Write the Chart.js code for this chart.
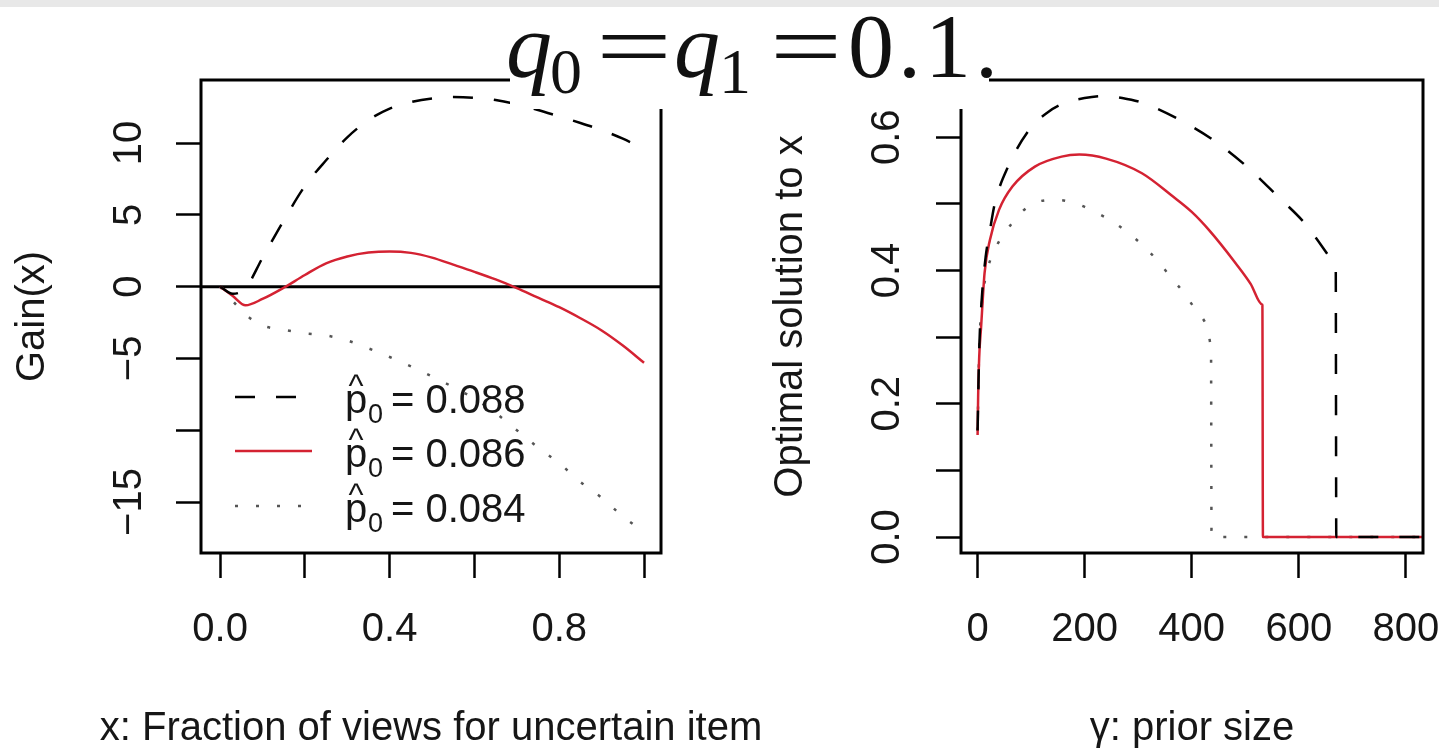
<!DOCTYPE html>
<html>
<head>
<meta charset="utf-8">
<script src="https://cdn.jsdelivr.net/npm/chart.js@4.4.1/dist/chart.umd.min.js"></script>
<style>
  body { margin: 0; width: 1439px; height: 749px; background: #fff; position: relative; overflow: hidden; }
  canvas { position: absolute; top: 0; }
  #gain { left: 0; }
  #solution { left: 720px; }
  #overlay { position: absolute; left: 0; top: 0; pointer-events: none; }
</style>
</head>
<body>
<canvas id="gain" width="780" height="749"></canvas>
<canvas id="solution" width="719" height="749"></canvas>
<svg id="overlay" width="1439" height="115">
  <rect x="0" y="0" width="1439" height="7" fill="#e8e8e8"/>
  <rect x="510" y="7" width="479" height="102" fill="#fff"/>
  <g font-family="'Liberation Serif', 'DejaVu Serif', serif" fill="#111">
    <text x="529" y="77" font-size="92" font-style="italic" text-anchor="middle">q</text>
    <text x="566" y="93" font-size="64" text-anchor="middle">0</text>
    <text x="596" y="77" font-size="92" textLength="76" lengthAdjust="spacingAndGlyphs">=</text>
    <text x="697" y="77" font-size="92" font-style="italic" text-anchor="middle">q</text>
    <text x="735" y="93" font-size="64" text-anchor="middle">1</text>
    <text x="770" y="77" font-size="92" textLength="72" lengthAdjust="spacingAndGlyphs">=</text>
    <text x="848" y="77" font-size="92" textLength="150" lengthAdjust="spacing">0.1.</text>
  </g>
</svg>
<script>
// ---- left panel: Gain(x) against fraction x ----
const fracX = [0, 0.03, 0.06, 0.1, 0.15, 0.2, 0.25, 0.3, 0.35, 0.4, 0.45, 0.5, 0.55, 0.6, 0.65, 0.7, 0.75, 0.8, 0.85, 0.9, 0.95, 1.0];
const gain088 = [0, -0.5, -0.1, 2.0, 4.6, 7.0, 8.8, 10.4, 11.6, 12.4, 12.85, 13.1, 13.2, 13.15, 13.0, 12.7, 12.3, 11.85, 11.4, 10.9, 10.3, 9.6];
const gain086 = [0, -0.65, -1.3, -0.86, -0.08, 0.81, 1.62, 2.1, 2.37, 2.45, 2.35, 2.02, 1.53, 1.03, 0.5, -0.1, -0.77, -1.43, -2.2, -3.05, -4.1, -5.3];
const gain084 = [0, -1.0, -1.95, -2.7, -3.0, -3.25, -3.4, -3.75, -4.3, -4.9, -5.55, -6.25, -7.0, -7.8, -8.8, -10.0, -11.2, -12.3, -13.6, -14.7, -16.0, -17.1];

const fracTicks = [0, 0.2, 0.4, 0.6, 0.8, 1.0];
const fracTickLabels = ['0.0', '', '0.4', '', '0.8', ''];
const gainTicks = [-15, -10, -5, 0, 5, 10];
const gainTickLabels = ['\u221215', '', '\u22125', '0', '5', '10'];

// ---- right panel: optimal x against prior size ----
const prior088 = [0, 3, 8, 15, 23, 32, 57, 98, 130, 161, 200, 236, 270, 311, 378, 440, 503, 561, 611, 661, 668.5, 669, 670, 850];
const sol088 = [0.16, 0.28, 0.36, 0.42, 0.46, 0.5, 0.556, 0.613, 0.637, 0.651, 0.659, 0.662, 0.659, 0.651, 0.626, 0.596, 0.556, 0.511, 0.471, 0.416, 0.407, 0.406, 0, 0];
const prior086 = [0, 1, 3, 6.6, 13, 23, 40, 65, 107, 157, 190, 240, 307, 365, 400, 432, 482, 510, 531.5, 532, 533, 850];
const sol086 = [0.153, 0.21, 0.27, 0.316, 0.396, 0.446, 0.491, 0.526, 0.556, 0.571, 0.574, 0.568, 0.546, 0.511, 0.488, 0.461, 0.411, 0.38, 0.349, 0.348, 0, 0];
const prior084 = [0, 3, 8, 15, 32, 55, 80, 111, 148, 182, 219, 253, 282, 311, 338, 363, 386, 407, 428, 432, 435.5, 436, 437, 850];
const sol084 = [0.16, 0.28, 0.35, 0.39, 0.431, 0.461, 0.486, 0.503, 0.506, 0.501, 0.488, 0.473, 0.456, 0.436, 0.413, 0.388, 0.366, 0.341, 0.316, 0.303, 0.289, 0.287, 0, 0];

const priorTicks = [0, 200, 400, 600, 800];
const priorTickLabels = ['0', '200', '400', '600', '800'];
const solTicks = [0, 0.1, 0.2, 0.3, 0.4, 0.5, 0.6];
const solTickLabels = ['0.0', '', '0.2', '', '0.4', '', '0.6'];

const p0Labels = ['0.088', '0.086', '0.084'];

const ink = '#161616';
const red = '#d42232';
const dotGrey = '#555';
const font40 = { family: "'Liberation Sans', Arial, sans-serif", size: 40 };

const pts = (xs, ys) => xs.map((x, i) => ({ x, y: ys[i] }));

function series(label, data, style) {
  return Object.assign({
    label, data, borderWidth: 2.5, pointRadius: 0, fill: false,
    cubicInterpolationMode: 'monotone'
  }, style);
}
const dashed = { borderColor: '#000', borderDash: [20, 21] };
const solid = { borderColor: red };
const dotted = { borderColor: dotGrey, borderDash: [3, 18] };

function axis(o) {
  return {
    type: 'linear', position: o.position, min: o.min, max: o.max,
    afterBuildTicks: s => { s.ticks = o.ticks.map(v => ({ value: v })); },
    afterFit: s => {
      if (s.isHorizontal()) s.height = o.size; else s.width = o.size;
      s.paddingLeft = s.paddingRight = s.paddingTop = s.paddingBottom = 0;
    },
    grid: { display: true, drawOnChartArea: false, drawTicks: true, tickLength: 25, tickWidth: 2.5, tickColor: '#000' },
    border: { display: false },
    ticks: {
      autoSkip: false, padding: o.tickPad, color: ink, font: font40,
      minRotation: o.rot, maxRotation: o.rot, crossAlign: o.rot ? 'center' : 'near',
      callback: (v, i) => o.labels[i]
    },
    title: { display: !!o.title, text: o.title || '', color: ink, font: font40, padding: o.titlePad }
  };
}

const frame = {
  id: 'frame',
  afterDatasetsDraw(chart) {
    const { ctx, chartArea: a } = chart;
    ctx.save();
    ctx.strokeStyle = '#000';
    ctx.lineWidth = 3;
    ctx.strokeRect(a.left, a.top, a.right - a.left, a.bottom - a.top);
    ctx.restore();
  }
};

// x axis caption, centred under the plot and free to run wider than it (as in R)
const xCaption = {
  id: 'xCaption',
  afterDraw(chart, args, opts) {
    const { ctx, chartArea: a } = chart;
    ctx.save();
    ctx.font = "40px 'Liberation Sans', Arial, sans-serif";
    ctx.fillStyle = ink;
    ctx.textAlign = 'center';
    ctx.textBaseline = 'alphabetic';
    ctx.fillText(opts.text, (a.left + a.right) / 2, chart.scales.x.bottom - 9);
    ctx.restore();
  }
};

// legend with hat-p subscript 0, drawn inside the plot like R's legend()
const hatLegend = {
  id: 'hatLegend',
  afterDraw(chart) {
    const ctx = chart.ctx;
    const rows = [413, 467, 522];
    ctx.save();
    chart.data.datasets.slice(0, 3).forEach((ds, i) => {
      const y = rows[i];
      ctx.strokeStyle = ds.borderColor;
      ctx.lineWidth = ds.borderWidth;
      ctx.setLineDash(ds.borderDash || []);
      ctx.beginPath();
      ctx.moveTo(235, y - 16);
      ctx.lineTo(312, y - 16);
      ctx.stroke();
      ctx.setLineDash([]);
      ctx.fillStyle = ink;
      ctx.textBaseline = 'alphabetic';
      ctx.textAlign = 'left';
      ctx.font = "40px 'Liberation Sans', Arial";
      ctx.fillText('p', 345, y);
      ctx.fillText('= ' + p0Labels[i], 391, y);
      ctx.font = "32px 'Liberation Sans', Arial";
      ctx.textAlign = 'center';
      ctx.fillText('^', 356, y - 17);
      ctx.font = "27px 'Liberation Sans', Arial";
      ctx.textAlign = 'left';
      ctx.fillText('0', 368, y + 10);
    });
    ctx.restore();
  }
};

const common = {
  responsive: false, animation: false, devicePixelRatio: 1,
  elements: { point: { radius: 0 } }
};

new Chart(document.getElementById('gain'), {
  type: 'line',
  data: {
    datasets: [
      series('p0 = 0.088', pts(fracX, gain088), dashed),
      series('p0 = 0.086', pts(fracX, gain086), solid),
      series('p0 = 0.084', pts(fracX, gain084), dotted),
      { label: 'zero', data: [{ x: -0.045, y: 0 }, { x: 1.04, y: 0 }], borderColor: '#000', borderWidth: 3, pointRadius: 0 }
    ]
  },
  options: Object.assign({}, common, {
    plugins: { legend: { display: false }, tooltip: { enabled: false }, xCaption: { text: 'x: Fraction of views for uncertain item' } },
    layout: { padding: { left: 0, right: 119, top: 80, bottom: 0 } },
    scales: {
      x: axis({ position: 'bottom', min: -0.045, max: 1.04, ticks: fracTicks, labels: fracTickLabels, size: 196, tickPad: 28, rot: 0 }),
      y: axis({ position: 'left', min: -18.55, max: 14.39, ticks: gainTicks, labels: gainTickLabels, size: 201, tickPad: 12, rot: 90,
        title: 'Gain(x)', titlePad: { top: 9, bottom: 0 } })
    }
  }),
  plugins: [frame, hatLegend, xCaption]
});

new Chart(document.getElementById('solution'), {
  type: 'line',
  data: {
    datasets: [
      series('p0 = 0.088', pts(prior088, sol088), dashed),
      series('p0 = 0.086', pts(prior086, sol086), solid),
      series('p0 = 0.084', pts(prior084, sol084), dotted)
    ]
  },
  options: Object.assign({}, common, {
    plugins: { legend: { display: false }, tooltip: { enabled: false }, xCaption: { text: '\u03b3: prior size' } },
    layout: { padding: { left: 0, right: 16, top: 80, bottom: 0 } },
    scales: {
      x: axis({ position: 'bottom', min: -31, max: 832, ticks: priorTicks, labels: priorTickLabels, size: 196, tickPad: 28, rot: 0 }),
      y: axis({ position: 'left', min: -0.024, max: 0.686, ticks: solTicks, labels: solTickLabels, size: 241, tickPad: 20, rot: 90,
        title: 'Optimal solution to x', titlePad: { top: 47, bottom: 0 } })
    }
  }),
  plugins: [frame, xCaption]
});
</script>
</body>
</html>
